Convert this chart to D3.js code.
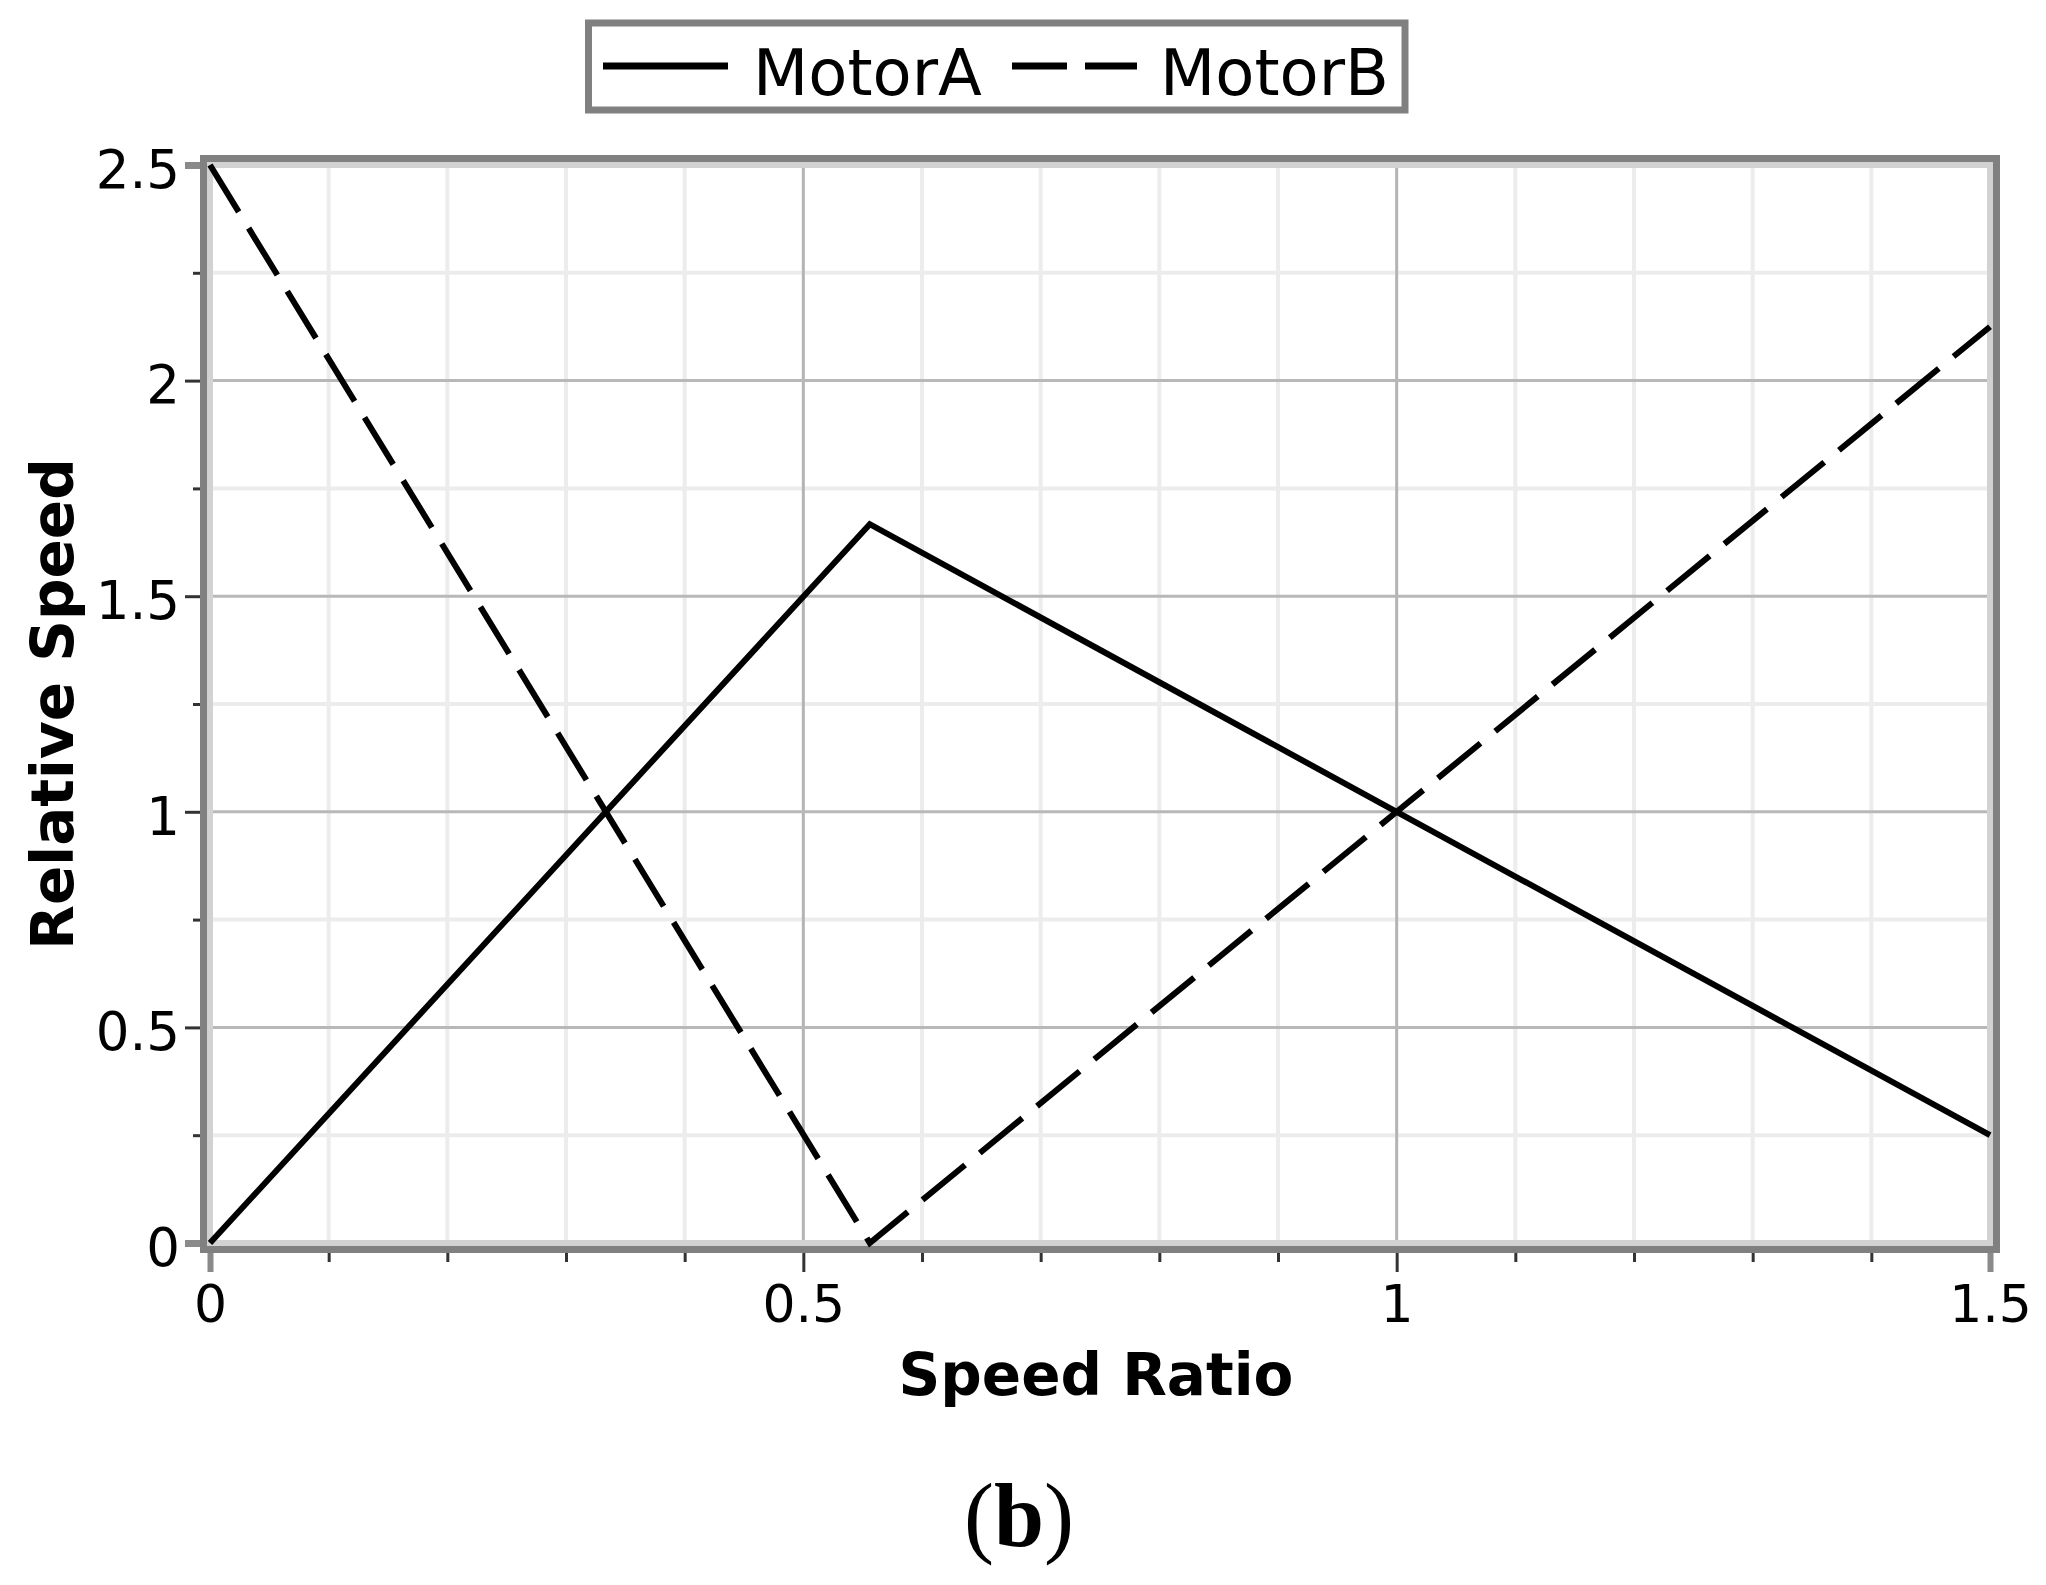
<!DOCTYPE html>
<html>
<head>
<meta charset="utf-8">
<script src="https://cdn.jsdelivr.net/npm/d3@7"></script>
<style>
  html, body { margin: 0; padding: 0; background: #ffffff; }
  svg { display: block; }
</style>
</head>
<body>
<svg id="chart" width="2046" height="1585"></svg>
<script>
// ---------------- data ----------------
const seriesNames = ["MotorA", "MotorB"];
const speedRatio = [0, 0.556, 1, 1.5];
const motorA = [0, 1.667, 1, 0.25];
const motorB = [2.5, 0, 1, 2.125];

const xMajorTicks = [0, 0.5, 1, 1.5];
const xMajorLabels = ["0", "0.5", "1", "1.5"];
const xMinorTicks = [0.1, 0.2, 0.3, 0.4, 0.6, 0.7, 0.8, 0.9, 1.1, 1.2, 1.3, 1.4];
const yMajorTicks = [0, 0.5, 1, 1.5, 2, 2.5];
const yMajorLabels = ["0", "0.5", "1", "1.5", "2", "2.5"];
const yMinorTicks = [0.25, 0.75, 1.25, 1.75, 2.25];

const xTitle = "Speed Ratio";
const yTitle = "Relative Speed";

// ---------------- layout ----------------
const svg = d3.select("#chart");
const L = 210, R = 1990, T = 165, B = 1243;
const x = d3.scaleLinear().domain([0, 1.5]).range([L, R]);
const y = d3.scaleLinear().domain([0, 2.5]).range([B, T]);
const FONT = "'DejaVu Sans', Verdana, sans-serif";

// gridlines (minor then major)
const grid = svg.append("g");
grid.selectAll("line.xmin").data(xMinorTicks).enter().append("line")
  .attr("x1", d => x(d)).attr("x2", d => x(d)).attr("y1", T).attr("y2", B)
  .attr("stroke", "#ececec").attr("stroke-width", 4);
grid.selectAll("line.ymin").data(yMinorTicks).enter().append("line")
  .attr("y1", d => y(d)).attr("y2", d => y(d)).attr("x1", L).attr("x2", R)
  .attr("stroke", "#ececec").attr("stroke-width", 4);
grid.selectAll("line.xmaj").data(xMajorTicks.slice(1, -1)).enter().append("line")
  .attr("x1", d => x(d)).attr("x2", d => x(d)).attr("y1", T).attr("y2", B)
  .attr("stroke", "#b4b4b4").attr("stroke-width", 3);
grid.selectAll("line.ymaj").data(yMajorTicks.slice(1, -1)).enter().append("line")
  .attr("y1", d => y(d)).attr("y2", d => y(d)).attr("x1", L).attr("x2", R)
  .attr("stroke", "#b8b8b8").attr("stroke-width", 3);

// axes ticks
function styleAxis(g) {
  g.select(".domain").remove();
  g.selectAll(".tick line").attr("stroke", "#333").attr("stroke-width", 3);
}
const xMinorAxis = svg.append("g").attr("transform", `translate(0,${B})`)
  .call(d3.axisBottom(x).tickValues(xMinorTicks).tickFormat("").tickSize(19));
styleAxis(xMinorAxis);
const yMinorAxis = svg.append("g").attr("transform", `translate(${L},0)`)
  .call(d3.axisLeft(y).tickValues(yMinorTicks).tickFormat("").tickSize(17));
styleAxis(yMinorAxis);

const xAxis = svg.append("g").attr("transform", `translate(0,${B})`)
  .call(d3.axisBottom(x).tickValues(xMajorTicks)
    .tickFormat((d, i) => xMajorLabels[i]).tickSize(29).tickPadding(13));
styleAxis(xAxis);
xAxis.selectAll(".tick text").attr("font-family", FONT).attr("font-size", 52)
  .attr("fill", "#000").attr("dy", "0").attr("y", 79);
const yAxis = svg.append("g").attr("transform", `translate(${L},0)`)
  .call(d3.axisLeft(y).tickValues(yMajorTicks)
    .tickFormat((d, i) => yMajorLabels[i]).tickSize(25).tickPadding(5));
styleAxis(yAxis);
yAxis.selectAll(".tick text").attr("font-family", FONT).attr("font-size", 53)
  .attr("fill", "#000").attr("dy", "0.42em");
// end ticks are extensions of the gray frame
xAxis.selectAll(".tick line").filter(d => d === 0 || d === 1.5)
  .attr("stroke", "#8a8a8a").attr("stroke-width", 6);
yAxis.selectAll(".tick line").filter(d => d === 0 || d === 2.5)
  .attr("stroke", "#8a8a8a").attr("stroke-width", 7);

// frame: dark outer band, light inner band
svg.append("rect").attr("x", L - 6.5).attr("y", T - 6.5)
  .attr("width", R - L + 13).attr("height", B - T + 13)
  .attr("fill", "none").attr("stroke", "#808080").attr("stroke-width", 7);
svg.append("rect").attr("x", L).attr("y", T)
  .attr("width", R - L).attr("height", B - T)
  .attr("fill", "none").attr("stroke", "#d2d2d2").attr("stroke-width", 6);

// data lines
const line = d3.line().x(d => x(d[0])).y(d => y(d[1]));
const dataA = speedRatio.map((v, i) => [v, motorA[i]]);
const dataB = speedRatio.map((v, i) => [v, motorB[i]]);
svg.append("path").datum(dataA).attr("d", line)
  .attr("fill", "none").attr("stroke", "#000").attr("stroke-width", 6)
  .attr("stroke-linejoin", "miter");
svg.append("path").datum(dataB).attr("d", line)
  .attr("fill", "none").attr("stroke", "#000").attr("stroke-width", 6)
  .attr("stroke-dasharray", "55,19");

// axis titles
svg.append("text").attr("x", (L + R) / 2 - 4).attr("y", 1395)
  .attr("text-anchor", "middle").attr("font-family", FONT)
  .attr("font-weight", "bold").attr("font-size", 58).attr("fill", "#000")
  .text(xTitle);
svg.append("text").attr("transform", `translate(73,${(T + B) / 2}) rotate(-90)`)
  .attr("text-anchor", "middle").attr("font-family", FONT)
  .attr("font-weight", "bold").attr("font-size", 58).attr("fill", "#000")
  .text(yTitle);

// legend
const lg = svg.append("g");
lg.append("rect").attr("x", 588.5).attr("y", 23).attr("width", 816.5).attr("height", 87)
  .attr("fill", "#fff").attr("stroke", "#808080").attr("stroke-width", 7);
lg.append("line").attr("x1", 603).attr("x2", 728).attr("y1", 66).attr("y2", 66)
  .attr("stroke", "#000").attr("stroke-width", 7);
lg.append("text").attr("x", 753).attr("y", 95).attr("font-family", FONT)
  .attr("font-size", 64).attr("fill", "#000").text(seriesNames[0]);
lg.append("line").attr("x1", 1012).attr("x2", 1137).attr("y1", 66).attr("y2", 66)
  .attr("stroke", "#000").attr("stroke-width", 7).attr("stroke-dasharray", "55,18");
lg.append("text").attr("x", 1160).attr("y", 95).attr("font-family", FONT)
  .attr("font-size", 64).attr("fill", "#000").text(seriesNames[1]);

// panel label
const pl = svg.append("text").attr("x", 1019).attr("y", 1546).attr("text-anchor", "middle")
  .attr("font-family", "'Liberation Serif', 'Times New Roman', serif")
  .attr("font-size", 90).attr("fill", "#000");
pl.append("tspan").text("(");
pl.append("tspan").attr("font-weight", "bold").text("b");
pl.append("tspan").text(")");
</script>
</body>
</html>
